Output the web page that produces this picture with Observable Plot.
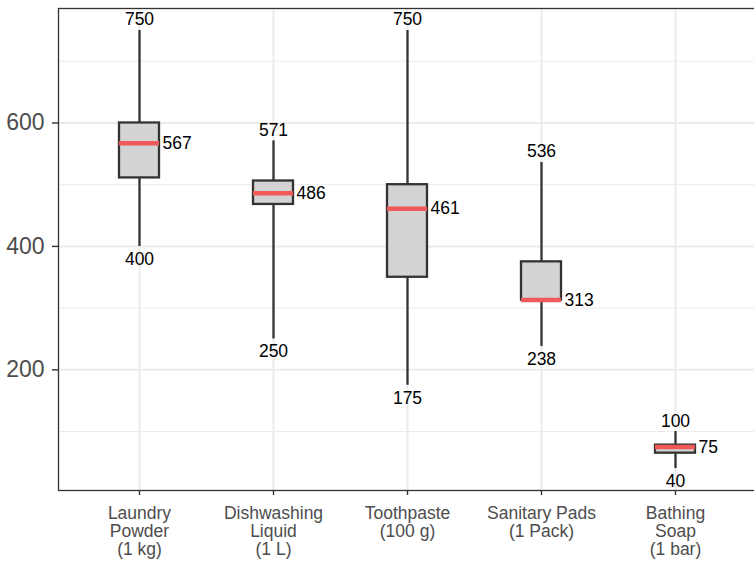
<!DOCTYPE html>
<html><head><meta charset="utf-8">
<script src="https://cdn.jsdelivr.net/npm/d3@7"></script>
<script src="https://cdn.jsdelivr.net/npm/@observablehq/plot@0.6"></script>
<style>body{margin:0;background:#fff;} svg{display:block;}</style>
</head><body><div id="chart"></div>
<script>
const categories = ["Laundry\nPowder\n(1 kg)", "Dishwashing\nLiquid\n(1 L)", "Toothpaste\n(100 g)", "Sanitary Pads\n(1 Pack)", "Bathing\nSoap\n(1 bar)"];
const mins    = [400, 250, 175, 238, 40];
const q1s     = [511, 468, 350, 313, 65];
const medians = [567, 486, 461, 313, 75];
const q3s     = [600, 506, 500, 375, 78];
const maxs    = [750, 571, 750, 536, 100];
const yTicks = [200, 400, 600];
const yMinorTicks = [100, 300, 500, 700];

const data = categories.map((c, i) => ({cat: c, min: mins[i], q1: q1s[i], median: medians[i], q3: q3s[i], max: maxs[i]}));

const font = "'Liberation Sans', Arial, sans-serif";
const chart = Plot.plot({
  width: 754, height: 573,
  marginLeft: 58, marginRight: -2, marginTop: 8, marginBottom: 83,
  style: {fontFamily: font, background: "#fff", overflow: "hidden"},
  x: {domain: categories, paddingInner: 0.7, paddingOuter: 0.45, label: null},
  y: {domain: [4.5, 785.5], label: null},
  marks: [
    Plot.ruleY(yMinorTicks, {stroke: "#ebebeb", strokeWidth: 1}),
    Plot.ruleY(yTicks, {stroke: "#ebebeb", strokeWidth: 2}),
    Plot.ruleX(categories, {x: d => d, stroke: "#ebebeb", strokeWidth: 2}),
    Plot.ruleX(data, {x: "cat", y1: "min", y2: "max", stroke: "#333333", strokeWidth: 2.3}),
    Plot.barY(data, {x: "cat", y1: "q1", y2: "q3", fill: "#d3d3d4", stroke: "#333333", strokeWidth: 2.3}),
    Plot.tickY(data, {x: "cat", y: "median", stroke: "#f05a5a", strokeWidth: 4.5}),
    Plot.text(data, {x: "cat", y: "max", text: d => String(d.max), lineAnchor: "bottom", dy: -5, fontSize: 17.5, fill: "#000"}),
    Plot.text(data, {x: "cat", y: "min", text: d => String(d.min), lineAnchor: "top", dy: 6, fontSize: 17.5, fill: "#000"}),
    Plot.text(data, {x: "cat", y: "median", text: d => String(d.median), textAnchor: "start", dx: 23, fontSize: 17.5, fill: "#000"}),
    Plot.frame({stroke: "#333333", strokeWidth: 1.3}),
    Plot.axisY({ticks: yTicks, tickSize: 6, tickPadding: 8, fontSize: 23, stroke: "#333333", fill: "#4d4d4d", strokeWidth: 1.4, label: null}),
    Plot.axisX({tickSize: 5, tickPadding: 10, fontSize: 17.5, stroke: "#333333", fill: "#4d4d4d", strokeWidth: 1.4, label: null, lineHeight: 1.05})
  ]
});
document.getElementById("chart").append(chart);
</script>
</body></html>
